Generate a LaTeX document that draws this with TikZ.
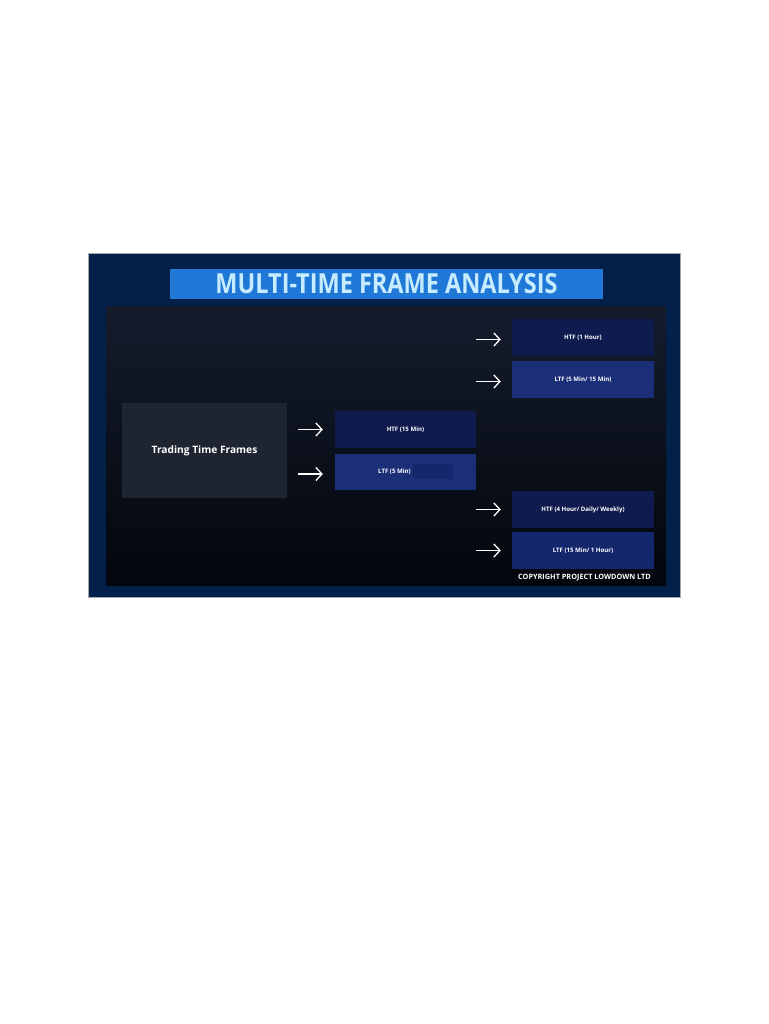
\documentclass[tikz,border=0pt]{standalone}
\usepackage{fontspec}
\setmainfont{Open Sans}
\usepackage{graphicx}
\usetikzlibrary{arrows.meta}
\definecolor{frameblue}{HTML}{03204A}
\definecolor{titlebar}{HTML}{1F78D6}
\definecolor{titletext}{HTML}{C8ECFF}
\definecolor{paneltop}{HTML}{141C2C}
\definecolor{panelbot}{HTML}{03060C}
\definecolor{tradebox}{HTML}{1F2431}
\definecolor{darkbox}{HTML}{0F1B4E}
\definecolor{lightbox}{HTML}{1B2E78}
\definecolor{midbox}{HTML}{15276C}

\begin{document}
\begin{tikzpicture}[x=1pt,y=-1pt,
  tf/.style={minimum width=142pt,minimum height=37pt,inner sep=0pt,text=white,font=\fontsize{6.1}{7}\selectfont\bfseries},
  arr/.style={draw=white,line width=1.3pt,-{Straight Barb[length=6pt,width=13pt]}}]
\useasboundingbox[fill=white] (0,0) rectangle (768,1024);
\fill[frameblue,draw=gray!70,line width=0.6pt] (88,253) rectangle (680,597);
\shade[top color=paneltop,bottom color=panelbot] (106,306) rectangle (666,585);
\node[fill=titlebar,minimum width=433pt,minimum height=30pt,inner sep=0pt] (title) at (386.5,284)
  {\color{titletext}\resizebox{342pt}{20pt}{\bfseries MULTI-TIME FRAME ANALYSIS}};
\node[fill=tradebox,minimum width=165pt,minimum height=95pt,inner sep=0pt,text=white,font=\fontsize{10.2}{12}\selectfont\bfseries] (trading) at (204.5,450.5) {Trading Time Frames};
\node[tf,fill=darkbox,minimum width=141pt] (htf15) at (405.5,429.5) {HTF (15 Min)};
\node[tf,fill=lightbox,minimum width=141pt,minimum height=36pt] (ltf5) at (405.5,472) {};
\fill[fill=midbox] (413,464) rectangle (453,479);
\node[tf,minimum width=0pt,minimum height=0pt] (ltf5txt) at (394.5,471.5) {LTF (5 Min)};
\node[tf,fill=darkbox] (htf1h) at (583,337.5) {HTF (1 Hour)};
\node[tf,fill=lightbox] (ltf515) at (583,379.5) {LTF (5 Min/ 15 Min)};
\node[tf,fill=darkbox] (htf4h) at (583,509.5) {HTF (4 Hour/ Daily/ Weekly)};
\node[tf,fill=midbox] (ltf151) at (583,550.5) {LTF (15 Min/ 1 Hour)};
\draw[arr,shorten >=12pt] ([xshift=-37pt]htf15.west) -- (htf15.west);
\draw[arr,shorten >=12pt] ([xshift=-37pt,yshift=-2pt]ltf5.west) -- ([yshift=-2pt]ltf5.west);
\draw[arr,shorten >=11pt] ([xshift=-36pt,yshift=-2pt]htf1h.west) -- ([yshift=-2pt]htf1h.west);
\draw[arr,shorten >=11pt] ([xshift=-36pt,yshift=-2pt]ltf515.west) -- ([yshift=-2pt]ltf515.west);
\draw[arr,shorten >=11pt] ([xshift=-36pt]htf4h.west) -- (htf4h.west);
\draw[arr,shorten >=11pt] ([xshift=-36pt]ltf151.west) -- (ltf151.west);
\node[text=white,font=\fontsize{7.3}{8}\selectfont\bfseries,inner sep=0pt] (copy) at (584.5,578) {COPYRIGHT PROJECT LOWDOWN LTD};
\end{tikzpicture}
\end{document}
